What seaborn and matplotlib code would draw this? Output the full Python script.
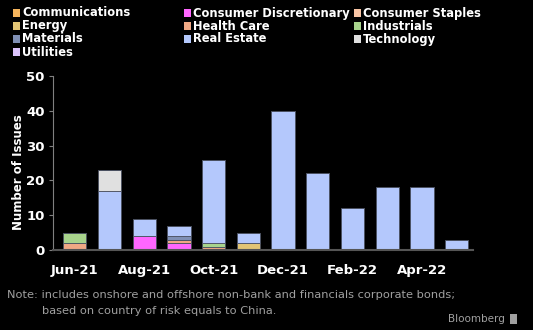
import matplotlib
matplotlib.use("Agg")
import matplotlib.pyplot as plt
from matplotlib.patches import Rectangle
import seaborn as sns
import pandas as pd
import numpy as np

months = ["Jun-21", "Jul-21", "Aug-21", "Sep-21", "Oct-21", "Nov-21",
          "Dec-21", "Jan-22", "Feb-22", "Mar-22", "Apr-22", "May-22"]
sectors = ["Communications", "Consumer Discretionary", "Consumer Staples",
           "Energy", "Health Care", "Industrials",
           "Materials", "Real Estate", "Technology", "Utilities"]
colors = ["#f5b45c", "#ff66ff", "#f8c4a4",
          "#e2c474", "#f0a884", "#a8d48c",
          "#7f8fb4", "#b4c8fc", "#e0e0e0", "#dcc4fc"]

communications = [0, 0, 0, 0, 0, 0, 0, 0, 0, 0, 0, 0]
consumer_discretionary = [0, 0, 4, 2, 0, 0, 0, 0, 0, 0, 0, 0]
consumer_staples = [0, 0, 0, 0, 0, 0, 0, 0, 0, 0, 0, 0]
energy = [0, 0, 0, 0, 0, 2, 0, 0, 0, 0, 0, 0]
health_care = [2, 0, 0, 1, 1, 0, 0, 0, 0, 0, 0, 0]
industrials = [3, 0, 0, 0, 1, 0, 0, 0, 0, 0, 0, 0]
materials = [0, 0, 0, 1, 0, 0, 0, 0, 0, 0, 0, 0]
real_estate = [0, 17, 5, 3, 24, 3, 40, 22, 12, 18, 18, 3]
technology = [0, 6, 0, 0, 0, 0, 0, 0, 0, 0, 0, 0]
utilities = [0, 0, 0, 0, 0, 0, 0, 0, 0, 0, 0, 0]

series = [communications, consumer_discretionary, consumer_staples, energy,
          health_care, industrials, materials, real_estate, technology, utilities]

rows = []
for name, vals in zip(sectors, series):
    for i, v in enumerate(vals):
        rows.append({"idx": i, "sector": name, "count": v})
df = pd.DataFrame(rows)

sns.set_theme(style="dark")
plt.rcParams["font.family"] = ["DejaVu Sans"]

fig = plt.figure(figsize=(5.33, 3.30), dpi=100, facecolor="black")
ax = fig.add_axes([0.0994, 0.2424, 0.788, 0.527])
ax.set_facecolor("black")

# histplot stacks the last hue level at the bottom, so reverse the order
sns.histplot(data=df, x="idx", hue="sector", weights="count",
             hue_order=sectors[::-1], palette=dict(zip(sectors, colors)),
             multiple="stack", discrete=True, shrink=0.67, alpha=1,
             edgecolor="#4a5060", linewidth=0.6, legend=False, ax=ax)

ax.set_xlim(-0.63, 11.47)
ax.set_ylim(0, 50)
ax.set_yticks([0, 10, 20, 30, 40, 50])
ax.set_xticks(range(0, 12, 2))
ax.set_xticklabels(months[::2])
ax.tick_params(axis="both", colors="white", labelsize=9.5)
for lab in ax.get_xticklabels() + ax.get_yticklabels():
    lab.set_fontweight("bold")
    lab.set_color("white")
ax.tick_params(axis="y", left=True, length=3, width=0.8, color="#808080", pad=3)
ax.tick_params(axis="x", bottom=False, pad=4)
ax.set_xlabel("")
ax.set_ylabel("Number of Issues", color="white", fontweight="bold", fontsize=8.5)
ax.yaxis.set_label_coords(-0.067, 0.45)
ax.grid(False)
for s in ["top", "right"]:
    ax.spines[s].set_visible(False)
ax.spines["left"].set_color("#808080")
ax.spines["left"].set_linewidth(0.8)
ax.spines["bottom"].set_color("#555555")
ax.spines["bottom"].set_linewidth(1.5)

# legend (row-major, 3 columns)
col_x = [22, 193, 363]
row_y = [13, 26, 39, 52]
W, H = 533.0, 330.0
for k, (name, c) in enumerate(zip(sectors, colors)):
    r, cidx = divmod(k, 3)
    x = col_x[cidx]
    y = row_y[r]
    fig.patches.append(Rectangle(((x - 9) / W, 1 - (y + 3.5) / H), 7 / W, 7 / H,
                                 transform=fig.transFigure, facecolor=c,
                                 edgecolor="none"))
    fig.text(x / W, 1 - y / H, name, color="white", fontweight="bold",
             fontsize=8.3, va="center", ha="left")

note_color = "#a0a0a0"
fig.text(7 / W, 1 - 295 / H, "Note: includes onshore and offshore non-bank and financials corporate bonds;",
         color=note_color, fontsize=8.2, va="center", ha="left")
fig.text(42 / W, 1 - 311 / H, "based on country of risk equals to China.",
         color=note_color, fontsize=8.2, va="center", ha="left")
fig.text(505 / W, 1 - 319 / H, "Bloomberg", color=note_color, fontsize=7.5,
         va="center", ha="right")
fig.patches.append(Rectangle((510 / W, 1 - 324 / H), 7 / W, 10 / H,
                             transform=fig.transFigure, facecolor=note_color,
                             edgecolor="none"))

fig.savefig("out.png", dpi=100, facecolor="black")
